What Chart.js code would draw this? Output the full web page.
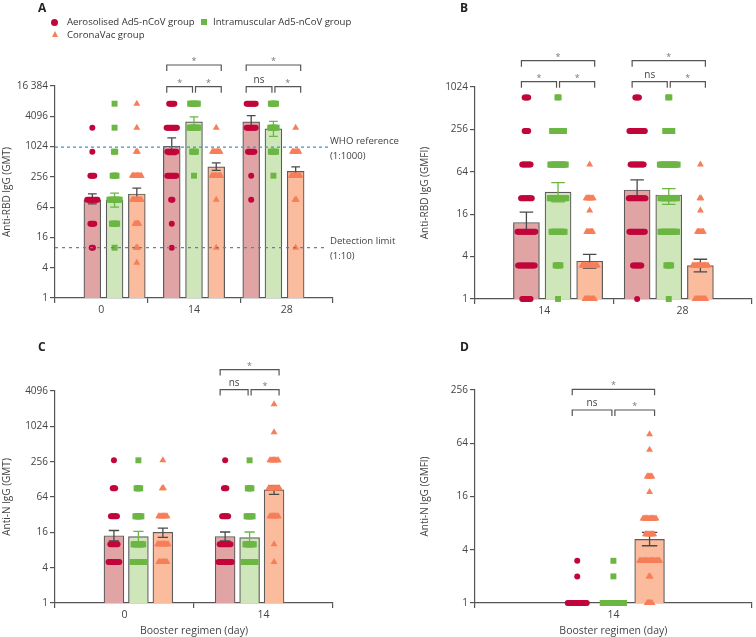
<!DOCTYPE html>
<html>
<head>
<meta charset="utf-8">
<script src="https://cdn.jsdelivr.net/npm/chart.js@4.4.0/dist/chart.umd.min.js"></script>
<style>
  body { margin: 0; background: #fff; font-family: 'Open Sans', sans-serif; }
  #page { position: relative; width: 756px; height: 637px; overflow: hidden; }
  canvas { position: absolute; }
  .letter { position: absolute; font-weight: bold; font-size: 12px; color: #222; }
  .leg { position: absolute; font-size: 9.6px; color: #333; white-space: nowrap; line-height: 12px; }
  .mk { position: absolute; }
  .mk.dot { width: 7px; height: 7px; border-radius: 50%; background: #c1063b; }
  .mk.sq { width: 6px; height: 6px; background: #6cb643; }
  .mk.tri { width: 0; height: 0; border-left: 3.5px solid transparent; border-right: 3.5px solid transparent; border-bottom: 6px solid #f67e59; }
</style>
</head>
<body>
<div id="page">
  <canvas id="chartA" width="400" height="318" style="left:0;top:0"></canvas>
  <canvas id="chartB" width="378" height="318" style="left:378px;top:0"></canvas>
  <canvas id="chartC" width="378" height="319" style="left:0;top:318px"></canvas>
  <canvas id="chartD" width="378" height="319" style="left:378px;top:318px"></canvas>

  <div class="letter" style="left:38px;top:-1px">A</div>
  <div class="letter" style="left:460px;top:-1px">B</div>
  <div class="letter" style="left:38px;top:338px">C</div>
  <div class="letter" style="left:460px;top:338px">D</div>

  <div class="mk dot" style="left:51px;top:19px"></div>
  <div class="leg" style="left:67px;top:16px">Aerosolised Ad5-nCoV group</div>
  <div class="mk sq" style="left:201px;top:19px"></div>
  <div class="leg" style="left:213px;top:16px">Intramuscular Ad5-nCoV group</div>
  <div class="mk tri" style="left:52px;top:31px"></div>
  <div class="leg" style="left:67px;top:29px">CoronaVac group</div>
</div>

<script>
const fontFamily = "'Open Sans', sans-serif";
const groupNames = ['Aerosolised Ad5-nCoV group', 'Intramuscular Ad5-nCoV group', 'CoronaVac group'];
const barFill = ['#e0a4a4', '#cfe5ba', '#fbbb9d'];
const dotColor = ['#c1063b', '#6cb643', '#f67e59'];
const errColor = ['#4a4a4a', '#6cb643', '#4a4a4a'];
const dotStyle = ['circle', 'rect', 'triangle'];
const dotRadius = [3, 4.2, 4];
const dotGap = 1.5; // px between stacked points of one strip

// ---- A: anti-RBD IgG (GMT) ----
const daysA = ['0', '14', '28'];
const ticksA = [1, 4, 16, 64, 256, 1024, 4096, 16384];
const gmtAerosolA = [88, 1040, 3170];
const gmtIntramA = [88, 3170, 2300];
const gmtCoronaA = [117, 404, 329];
const errLowA = [[74, 712, 2370], [64, 2500, 1630], [90, 345, 284]];
const errHighA = [[117, 1520, 4240], [122, 4000, 3250], [153, 484, 404]];
const levelsA = [5, 10, 30, 90, 270, 810, 2430, 7290];
const countsAerosolA = [[0, 2, 4, 9, 4, 1, 1, 0], [0, 1, 1, 2, 8, 8, 9, 5], [0, 0, 0, 1, 1, 6, 8, 8]];
const countsIntramA = [[0, 1, 5, 9, 4, 2, 1, 1], [0, 0, 0, 0, 1, 4, 8, 7], [0, 0, 0, 0, 1, 5, 6, 5]];
const countsCoronaA = [[1, 2, 4, 8, 8, 2, 1, 1], [0, 1, 0, 1, 8, 7, 1, 0], [0, 1, 0, 2, 8, 6, 1, 0]];

// ---- B: anti-RBD IgG (GMFI) ----
const daysB = ['14', '28'];
const ticksB = [1, 4, 16, 64, 256, 1024];
const gmfiAerosolB = [12.2, 35.3];
const gmfiIntramB = [33, 30];
const gmfiCoronaB = [3.44, 2.98];
const errLowB = [[8.8, 25.5], [24, 22], [2.75, 2.42]];
const errHighB = [[17.1, 49], [45, 37], [4.3, 3.67]];
const levelsB = [1, 3, 9, 18, 27, 81, 243, 729];
const countsAerosolB = [[8, 15, 16, 0, 10, 8, 4, 4], [1, 8, 14, 0, 15, 12, 14, 4]];
const countsIntramB = [[1, 5, 12, 0, 15, 14, 11, 2], [1, 5, 15, 0, 15, 16, 7, 2]];
const countsCoronaB = [[9, 14, 6, 1, 7, 1, 0, 0], [10, 14, 6, 1, 2, 1, 0, 0]];

// ---- C: anti-N IgG (GMT) ----
const daysC = ['0', '14'];
const ticksC = [1, 4, 16, 64, 256, 1024, 4096];
const gmtAerosolC = [14, 13.6];
const gmtIntramC = [13.5, 13];
const gmtCoronaC = [16, 85];
const errLowC = [[11.4, 11.4], [11, 10.5], [13.1, 71]];
const errHighC = [[17.2, 16.2], [16.6, 16.2], [18.9, 100]];
const levelsC = [5, 10, 30, 90, 270, 810, 2430];
const countsAerosolC = [[10, 7, 6, 3, 1, 0, 0], [12, 10, 6, 3, 1, 0, 0]];
const countsIntramC = [[11, 9, 6, 4, 1, 0, 0], [11, 8, 6, 4, 1, 0, 0]];
const countsCoronaC = [[8, 10, 8, 2, 1, 0, 0], [1, 1, 8, 10, 8, 1, 1]];

// ---- D: anti-N IgG (GMFI) ----
const daysD = ['14'];
const ticksD = [1, 4, 16, 64, 256];
const gmfiAerosolD = [1];
const gmfiIntramD = [1];
const gmfiCoronaD = [5.24];
const errLowD = [[null], [null], [4.44]];
const errHighD = [[null], [null], [6.3]];
const levelsD = [1, 2, 3, 6, 9, 18, 27, 54, 81];
const countsAerosolD = [[17, 1, 1, 0, 0, 0, 0, 0, 0]];
const countsIntramD = [[19, 1, 1, 0, 0, 0, 0, 0, 0]];
const countsCoronaD = [[5, 2, 18, 8, 12, 1, 5, 1, 1]];

// significance brackets: category, from group, to group, row (0 lower, 1 upper), label
const bracketsA = [[1, 0, 2, 1, '*'], [1, 0, 1, 0, '*'], [1, 1, 2, 0, '*'], [2, 0, 2, 1, '*'], [2, 0, 1, 0, 'ns'], [2, 1, 2, 0, '*']];
const bracketsB = [[0, 0, 2, 1, '*'], [0, 0, 1, 0, '*'], [0, 1, 2, 0, '*'], [1, 0, 2, 1, '*'], [1, 0, 1, 0, 'ns'], [1, 1, 2, 0, '*']];
const bracketsC = [[1, 0, 2, 1, '*'], [1, 0, 1, 0, 'ns'], [1, 1, 2, 0, '*']];
const bracketsD = [[0, 0, 2, 1, '*'], [0, 0, 1, 0, 'ns'], [0, 1, 2, 0, '*']];

const axisColor = '#555';
const textColor = '#444';

const panelExtras = {
  id: 'panelExtras',
  afterDatasetDraw(chart, args) {
    const ds = chart.data.datasets[args.index];
    if (!ds.errHigh) return;
    const y = chart.scales.y, ctx = chart.ctx;
    ctx.save();
    ctx.strokeStyle = ds.errColor;
    ctx.lineWidth = 1.3;
    args.meta.data.forEach((bar, i) => {
      if (ds.errHigh[i] == null) return;
      const yLo = y.getPixelForValue(ds.errLow[i]);
      const yHi = y.getPixelForValue(ds.errHigh[i]);
      const half = bar.width * 0.26;
      ctx.beginPath();
      ctx.moveTo(bar.x, yLo); ctx.lineTo(bar.x, yHi);
      ctx.moveTo(bar.x - half, yHi); ctx.lineTo(bar.x + half, yHi);
      ctx.moveTo(bar.x - half, yLo); ctx.lineTo(bar.x + half, yLo);
      ctx.stroke();
    });
    ctx.restore();
  },
  afterDatasetsDraw(chart, args, opts) {
    const refs = opts.refLines || [];
    const {ctx, chartArea} = chart;
    const y = chart.scales.y;
    refs.forEach(r => {
      const py = y.getPixelForValue(r.value);
      ctx.save();
      ctx.strokeStyle = r.color;
      ctx.lineWidth = 1.2;
      ctx.setLineDash(r.dash);
      ctx.beginPath();
      ctx.moveTo(chartArea.left, py);
      ctx.lineTo(chartArea.right - 5, py);
      ctx.stroke();
      ctx.setLineDash([]);
      ctx.fillStyle = textColor;
      ctx.font = '9.6px ' + fontFamily;
      ctx.textAlign = 'left';
      ctx.textBaseline = 'middle';
      ctx.fillText(r.text[0], chartArea.right - 3, py - 6);
      ctx.fillText(r.text[1], chartArea.right - 3, py + 9);
      ctx.restore();
    });
  },
  afterDraw(chart, args, opts) {
    const {ctx, chartArea} = chart;
    const xs = chart.scales.xs;
    const off = k => (k - 1) * opts.catPct / 3;
    (opts.brackets || []).forEach(([cat, a, b, row, label]) => {
      const ca = xs.getPixelForValue(cat + off(a));
      const cb = xs.getPixelForValue(cat + off(b));
      const x1 = a === 0 ? ca - 5 : ca + 1.5;
      const x2 = b === 2 ? cb + 5 : cb - 1.5;
      const py = chartArea.top + opts.rows[row];
      ctx.save();
      ctx.strokeStyle = '#555';
      ctx.lineWidth = 1.2;
      ctx.beginPath();
      ctx.moveTo(x1, py + 6); ctx.lineTo(x1, py); ctx.lineTo(x2, py); ctx.lineTo(x2, py + 6);
      ctx.stroke();
      ctx.textAlign = 'center';
      ctx.textBaseline = 'alphabetic';
      if (label === '*') {
        ctx.fillStyle = '#777';
        ctx.font = '9px ' + fontFamily;
        ctx.fillText(label, (x1 + x2) / 2, py - 1);
      } else {
        ctx.fillStyle = textColor;
        ctx.font = '10px ' + fontFamily;
        ctx.fillText(label, (x1 + x2) / 2, py - 4);
      }
      ctx.restore();
    });
  }
};

function buildPanel(id, p) {
  const canvas = document.getElementById(id);
  const nCats = p.labels.length;
  const catPx = (canvas.width - p.plot.left - p.plot.right) / nCats;
  const offsets = [0, 1, 2].map(k => (k - 1) * p.catPct / 3);
  const barPx = catPx * p.catPct / 3 * 0.65;
  const datasets = [];
  p.values.forEach((vals, g) => {
    datasets.push({
      type: 'bar', label: groupNames[g],
      data: vals.map((v, day) => ({ x: day + offsets[g], y: v })),
      xAxisID: 'xs', yAxisID: 'y', grouped: false, barThickness: barPx,
      backgroundColor: barFill[g], borderColor: '#5b5b5b', borderWidth: 1.2, order: 2,
      errLow: p.errLow[g], errHigh: p.errHigh[g], errColor: errColor[g]
    });
  });
  p.counts.forEach((byDay, g) => {
    const pts = [];
    byDay.forEach((row, day) => {
      row.forEach((n, li) => {
        for (let j = 0; j < n; j++) {
          pts.push({ x: day + offsets[g] + (j - (n - 1) / 2) * dotGap / catPx, y: p.levels[li] });
        }
      });
    });
    datasets.push({
      type: 'scatter', label: groupNames[g], data: pts, xAxisID: 'xs', yAxisID: 'y',
      pointStyle: dotStyle[g], pointRadius: dotRadius[g], pointBackgroundColor: dotColor[g],
      pointBorderWidth: 0, order: 1, clip: false
    });
  });
  return new Chart(canvas, {
    type: 'bar',
    data: { labels: p.labels, datasets },
    options: {
      responsive: false,
      animation: false,
      devicePixelRatio: 1,
      events: [],
      layout: { padding: { left: 0, top: p.plot.top, right: p.plot.right, bottom: 0 } },
      plugins: {
        legend: { display: false },
        tooltip: { enabled: false },
        panelExtras: { catPct: p.catPct, brackets: p.brackets, rows: p.rows, refLines: p.refLines }
      },
      scales: {
        x: {
          type: 'category', offset: true,
          grid: { offset: true, drawOnChartArea: false, drawTicks: true, tickLength: 5, color: axisColor, lineWidth: 1.2 },
          border: { color: axisColor, width: 1.2 },
          ticks: { color: textColor, font: { family: fontFamily, size: 10.5 }, padding: 1, maxRotation: 0 },
          title: { display: !!p.xTitle, text: p.xTitle || '', color: textColor, font: { family: fontFamily, size: 10.5 }, padding: { top: 0, bottom: 0 } },
          afterFit: s => { s.height = p.plot.xh; }
        },
        xs: { type: 'linear', display: false, min: -0.5, max: nCats - 0.5 },
        y: {
          type: 'logarithmic', min: 1, max: p.yTicks[p.yTicks.length - 1],
          afterBuildTicks: s => { s.ticks = p.yTicks.map(v => ({ value: v })); },
          grid: { drawOnChartArea: false, drawTicks: true, tickLength: 5, color: axisColor, lineWidth: 1.2 },
          border: { color: axisColor, width: 1.2 },
          ticks: { color: textColor, font: { family: fontFamily, size: 10 }, padding: 2, autoSkip: false,
                   callback: v => v === 16384 ? '16 384' : String(v) },
          title: { display: true, text: p.yTitle, color: textColor, font: { family: fontFamily, size: 10 }, padding: { top: p.yTitlePad, bottom: 0 } },
          afterFit: s => { s.width = p.plot.left; }
        }
      }
    },
    plugins: [panelExtras]
  });
}

buildPanel('chartA', {
  labels: daysA, yTicks: ticksA, levels: levelsA, catPct: 0.84,
  values: [gmtAerosolA, gmtIntramA, gmtCoronaA], errLow: errLowA, errHigh: errHighA,
  counts: [countsAerosolA, countsIntramA, countsCoronaA],
  plot: { left: 55, top: 86, right: 67, xh: 20 },
  yTitle: 'Anti-RBD IgG (GMT)', yTitlePad: 1,
  brackets: bracketsA, rows: [0.7, -21],
  refLines: [
    { value: 1000, color: '#3f8fd2', dash: [3, 3], text: ['WHO reference', '(1:1000)'] },
    { value: 10, color: '#5d84a6', dash: [3, 4], text: ['Detection limit', '(1:10)'] }
  ]
});

buildPanel('chartB', {
  labels: daysB, yTicks: ticksB, levels: levelsB, catPct: 0.857,
  values: [gmfiAerosolB, gmfiIntramB, gmfiCoronaB], errLow: errLowB, errHigh: errHighB,
  counts: [countsAerosolB, countsIntramB, countsCoronaB],
  plot: { left: 97, top: 87, right: 1, xh: 19 },
  yTitle: 'Anti-RBD IgG (GMFI)', yTitlePad: 41.5,
  brackets: bracketsB, rows: [-5.3, -26.3]
});

buildPanel('chartC', {
  labels: daysC, yTicks: ticksC, levels: levelsC, catPct: 0.66,
  values: [gmtAerosolC, gmtIntramC, gmtCoronaC], errLow: errLowC, errHigh: errHighC,
  counts: [countsAerosolC, countsIntramC, countsCoronaC],
  plot: { left: 55, top: 73, right: 45, xh: 34 },
  yTitle: 'Anti-N IgG (GMT)', yTitlePad: 1, xTitle: 'Booster regimen (day)',
  brackets: bracketsC, rows: [-1.4, -21.4]
});

buildPanel('chartD', {
  labels: daysD, yTicks: ticksD, levels: levelsD, catPct: 0.49,
  values: [gmfiAerosolD, gmfiIntramD, gmfiCoronaD], errLow: errLowD, errHigh: errHighD,
  counts: [countsAerosolD, countsIntramD, countsCoronaD],
  plot: { left: 97, top: 72, right: 1, xh: 34 },
  yTitle: 'Anti-N IgG (GMFI)', yTitlePad: 41.5, xTitle: 'Booster regimen (day)',
  brackets: bracketsD, rows: [20, -0.7]
});
</script>
</body>
</html>
